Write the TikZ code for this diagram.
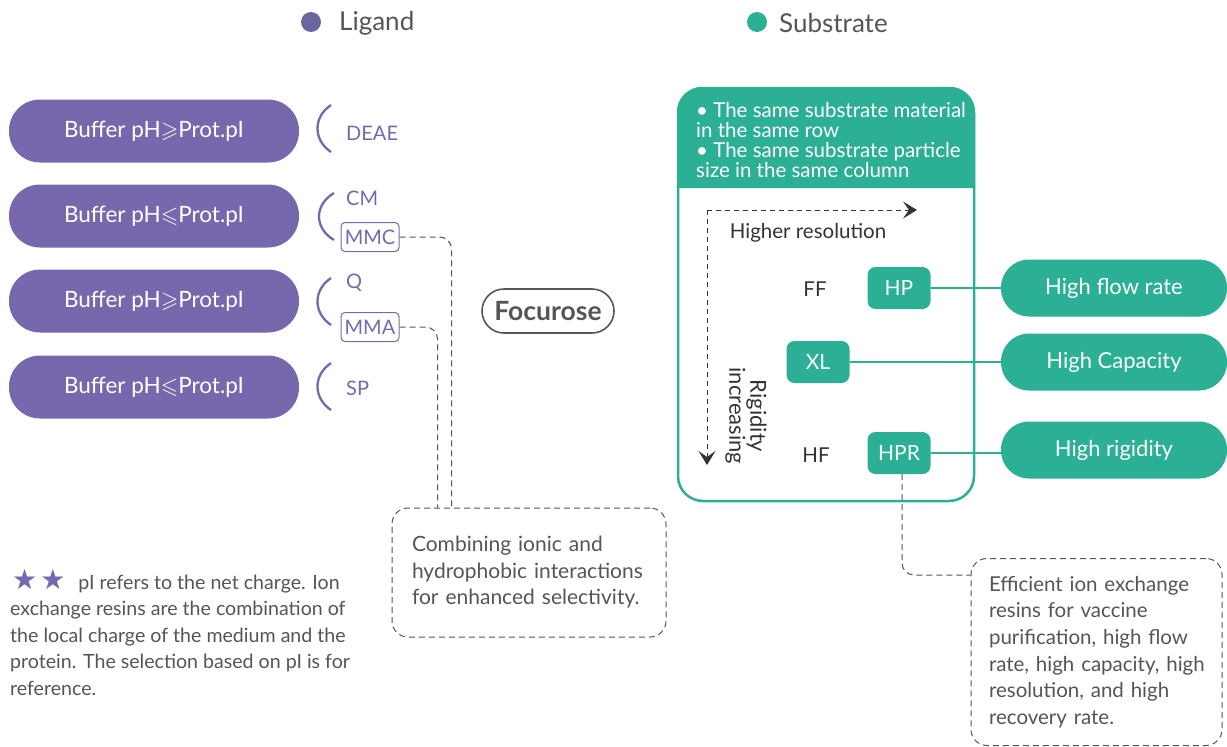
\documentclass[tikz,border=0pt]{standalone}
\usepackage{amssymb}
\usepackage{fontspec}
\setmainfont{Lato}
\newfontfamily\symfont{DejaVu Sans}
\usetikzlibrary{arrows.meta}
\definecolor{purp}{HTML}{7768AD}
\definecolor{ligc}{HTML}{6C66A0}
\definecolor{teal}{HTML}{2BAF95}
\definecolor{txt}{HTML}{555555}
\definecolor{dark}{HTML}{333333}
\begin{document}
\begin{tikzpicture}[x=1pt,y=-1pt,
  pill/.style={fill=purp, rounded corners=31pt, minimum width=290pt, minimum height=63pt, text=white, font=\fontsize{22.5}{26}\selectfont, inner sep=0pt},
  tpill/.style={fill=teal, rounded corners=28pt, minimum width=226pt, minimum height=57pt, text=white, font=\fontsize{22}{26}\selectfont, inner sep=0pt},
  tbox/.style={fill=teal, rounded corners=8pt, minimum width=63pt, minimum height=42pt, text=white, font=\fontsize{21}{24}\selectfont, inner sep=0pt},
  brk/.style={draw=purp, line width=2.3pt},
  plab/.style={text=purp, font=\fontsize{20}{24}\selectfont, inner sep=0pt},
  pbox/.style={draw=purp, line width=1pt, rounded corners=4pt, minimum width=58pt, minimum height=29pt, text=purp, font=\fontsize{20}{24}\selectfont, inner sep=0pt},
  dsh/.style={draw=txt, line width=1pt, dash pattern=on 6pt off 4pt},
  note/.style={dsh, rounded corners=16pt, text=txt, align=left},
  legtxt/.style={text=txt, font=\fontsize{26}{30}\selectfont, anchor=west, inner sep=0pt},
  darr/.style={draw=dark, line width=1pt, dash pattern=on 5pt off 4pt, -{Stealth[length=14pt,width=17pt,inset=6pt]}},
  dlab/.style={text=dark, font=\fontsize{20.5}{24}\selectfont, inner sep=0pt},
  tl/.style={draw=teal, line width=2pt}
]
\useasboundingbox (0,0) rectangle (1227,747);

% legend
\node[circle, fill=ligc, minimum size=20pt, inner sep=0pt] (ligdot) at (311,22) {};
\node[legtxt] (ligand) at (339,23) {Ligand};
\node[circle, fill=teal, minimum size=20pt, inner sep=0pt] (subdot) at (757,22) {};
\node[legtxt] (substrate) at (779,23) {Substrate};

% buffer pills
\node[pill] (b1) at (154,131) {Buffer pH$\geqslant$Prot.pI};
\node[pill] (b2) at (154,216) {Buffer pH$\leqslant$Prot.pI};
\node[pill] (b3) at (154,301) {Buffer pH$\geqslant$Prot.pI};
\node[pill] (b4) at (154,387) {Buffer pH$\leqslant$Prot.pI};

% brackets
\draw[brk] (331,105) .. controls (313,117) and (313,140) .. (331,152);
\draw[brk] (334,193) .. controls (314,205) and (314,228) .. (334,240);
\draw[brk] (331,278) .. controls (313,290) and (313,313) .. (331,325);
\draw[brk] (331,363) .. controls (313,375) and (313,398) .. (331,410);

% ligand labels
\node[plab, anchor=west] (deae) at (346,133) {DEAE};
\node[plab, anchor=west] (cm) at (346,198) {CM};
\node[pbox] (mmc) at (370,237) {MMC};
\node[plab, anchor=west] (q) at (346,283) {Q};
\node[pbox] (mma) at (370,327) {MMA};
\node[plab, anchor=west] (sp) at (346,388) {SP};

% Focurose
\node[draw=txt, line width=1.6pt, rounded corners=22pt, minimum width=132pt, minimum height=44pt, text=txt, font=\fontsize{26.5}{30}\selectfont\bfseries, inner sep=0pt] (foc) at (548,311) {Focurose};

% note box
\node[note, minimum width=274pt, minimum height=129pt, text width=234pt, inner xsep=20pt, font=\fontsize{21}{26.5}\selectfont] (note) at (529,572.5) {Combining ionic and\\hydrophobic interactions\\for enhanced selectivity.};
\draw[dsh, rounded corners=12pt] (mmc.east) -| ([xshift=60pt]note.north west);
\draw[dsh, rounded corners=12pt] (mma.east) -| ([xshift=46pt]note.north west);

% footnote
\node[text=txt, align=left, anchor=north west, inner sep=0pt, font=\fontsize{19.6}{26.5}\selectfont] (foot) at (10,569) {\hspace*{2pt}{\color{purp}\symfont\fontsize{28}{26.5}\selectfont ★\hspace{3pt}★}\hspace{13pt}pI refers to the net charge. Ion\\exchange resins are the combination of\\the local charge of the medium and the\\protein. The selection based on pI is for\\reference.};

% substrate panel
\node[draw=teal, line width=2.5pt, rounded corners=25pt, minimum width=296pt, minimum height=413pt, inner sep=0pt] (panel) at (826,294.5) {};
\fill[teal] (677,188) [rounded corners=25pt] -- (677,87) -- (975,87) [sharp corners] -- (975,188) -- cycle;
\node[text=white, align=left, anchor=north west, inner sep=0pt, font=\fontsize{20.5}{20}\selectfont] (head) at (696,102) {\textbullet\ The same substrate material\\in the same row\\\textbullet\ The same substrate particle\\size in the same column};

% axes
\coordinate (corner) at (707,210);
\coordinate (xend) at (917,210);
\coordinate (yend) at (707,465);
\draw[darr] (corner) -- (xend);
\draw[darr] (corner) -- (yend);
\node[dlab] (hres) at (808,233) {Higher resolution};
\node[dlab, rotate=-90, align=center, font=\fontsize{22}{21}\selectfont] (rig) at (746,416) {Rigidity\\increasing};

\node[dlab] (ff) at (815,289) {FF};
\node[dlab] (hf) at (816,455) {HF};
\node[tbox] (hp) at (899,288) {HP};
\node[tbox] (xl) at (818,362) {XL};
\node[tbox] (hpr) at (899,453) {HPR};

% right pills
\node[tpill] (hfr) at (1114,288) {High flow rate};
\node[tpill] (hcap) at (1114,362) {High Capacity};
\node[tpill] (hrig) at (1114,450) {High rigidity};
\draw[tl] (hp.east) -- (hfr.west);
\draw[tl] (xl.east) -- (hcap.west);
\draw[tl] (hpr.east) -- (hpr.east -| hrig.west);

% efficient box
\node[note, minimum width=251pt, minimum height=187pt, text width=219pt, inner xsep=16pt, font=\fontsize{20.5}{26.6}\selectfont] (eff) at (1096.5,652) {\hspace*{2pt}Efficient ion exchange\\\hspace*{2pt}resins for vaccine\\\hspace*{2pt}purification, high flow\\\hspace*{2pt}rate, high capacity, high\\\hspace*{2pt}resolution, and high\\\hspace*{2pt}recovery rate.};
\draw[dsh, rounded corners=12pt] ([xshift=3pt]hpr.south) |- ([yshift=-17pt]eff.north west);
\end{tikzpicture}
\end{document}
